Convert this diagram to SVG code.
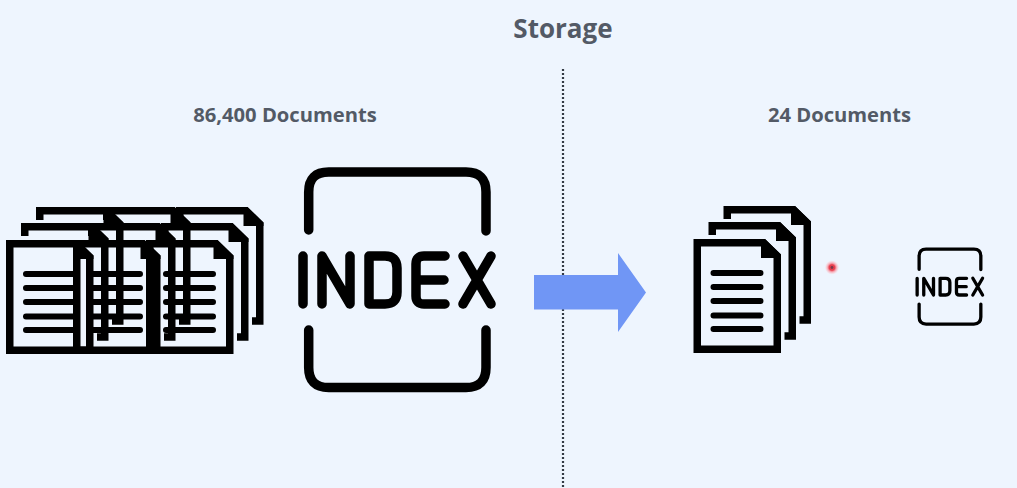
<svg xmlns="http://www.w3.org/2000/svg" xmlns:xlink="http://www.w3.org/1999/xlink" width="1017" height="488" viewBox="0 0 1017 488">
  <style>
    .label{font-family:"Open Sans","Noto Sans","Liberation Sans",sans-serif;font-weight:700;fill:#535a66;text-anchor:middle}
    .pg{fill:none;stroke:#000;stroke-width:7.5;stroke-linejoin:miter}
    .fold{fill:#000;stroke:none}
    .ln{fill:none;stroke:#000;stroke-width:6;stroke-linecap:round}
    .ix{fill:none;stroke:#000;stroke-width:9.5;stroke-linecap:round;stroke-linejoin:round}
  </style>
  <defs>
    <radialGradient id="halo">
      <stop offset="0" stop-color="#e04050"/>
      <stop offset="0.4" stop-color="#e8404f"/>
      <stop offset="0.6" stop-color="#f6a0ac"/>
      <stop offset="1" stop-color="#fbd3da" stop-opacity="0.15"/>
    </radialGradient>
    <g id="front">
      <path class="pg" d="M3.75 3.75H70L83.75 17V110.25H3.75Z"/>
      <path class="fold" d="M67.5 0H71.5L87.5 15.5V19H67.5Z"/>
      <path class="ln" d="M20 34H67M20 48H67M20 62H67M20 76.5H67M20 90H67"/>
    </g>
    <g id="back">
      <path class="pg" d="M3.75 13V3.75H70L83.75 17V114H76"/>
      <path class="fold" d="M67.5 0H71.5L87.5 15.5V19H67.5Z"/>
    </g>
    <g id="stack">
      <use href="#back" xlink:href="#back" x="30" y="-33"/>
      <use href="#back" xlink:href="#back" x="15" y="-17"/>
      <use href="#front" xlink:href="#front"/>
    </g>
    <g id="indexIcon">
      <path class="ix" d="M308.7 230V192Q308.7 172 328.7 172H466Q486 172 486 192V231"/>
      <path class="ix" d="M308.7 330V367.5Q308.7 387.5 328.7 387.5H466Q486 387.5 486 367.5V330"/>
      <path class="ix" d="M303 256V304M322 304V256L350 304V256"/>
      <path class="ix" d="M369 256H385Q397 256 397 268V292Q397 304 385 304H369Z"/>
      <path class="ix" d="M445 256H424Q416 256 416 264V296Q416 304 424 304H445M416 280H444"/>
      <path class="ix" d="M463 304L491 256M463 256L491 304"/>
    </g>
  </defs>
  <rect width="1017" height="488" fill="#eef5fe"/>

  <g id="connectors">
    <line x1="563" y1="69" x2="563" y2="488" stroke="#333a44" stroke-width="2.2" stroke-dasharray="2 2"/>
    <path d="M534 275H618V253L646 292.5L618 332V309.5H534Z" fill="#7096f5"/>
  </g>

  <g id="title"><text class="label" x="563" y="38" font-size="26">Storage</text></g>

  <g id="left-documents">
    <text class="label" x="285" y="122" font-size="20.2">86,400 Documents</text>
    <use href="#stack" xlink:href="#stack" x="6" y="240"/>
    <use href="#stack" xlink:href="#stack" x="73" y="240"/>
    <use href="#stack" xlink:href="#stack" x="146" y="240"/>
  </g>

  <g id="left-index"><use href="#indexIcon" xlink:href="#indexIcon"/></g>

  <g id="right-documents">
    <text class="label" x="839.5" y="122" font-size="20.2">24 Documents</text>
    <use href="#stack" xlink:href="#stack" x="693.5" y="239"/>
  </g>

  <g id="right-index"><use href="#indexIcon" xlink:href="#indexIcon" transform="translate(811.7 189.2) scale(.348)"/></g>

  <g id="pointer">
    <circle cx="832" cy="267.5" r="7" fill="url(#halo)"/>
    <circle cx="832" cy="267.5" r="1.4" fill="#7a3a4a"/>
  </g>
</svg>
